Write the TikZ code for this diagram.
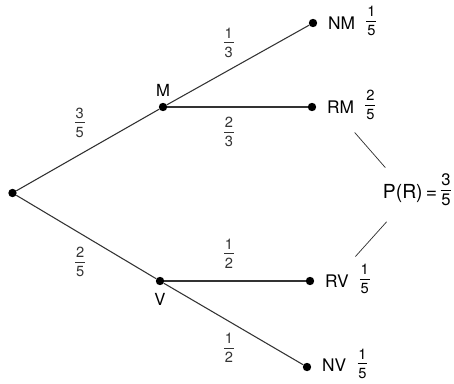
\documentclass[tikz,border=0pt]{standalone}
\usepackage{fontspec}
\setmainfont{TeX Gyre Heros}
\usetikzlibrary{positioning}
\newcommand{\pfrac}[3][11]{{\fontsize{#1}{#1}\selectfont\raisebox{2pt}{$\vcenter{\hbox{%
  \begin{tabular}{@{\kern0.6pt}c@{\kern0.6pt}}#2\\[-0.3pt]\hline\noalign{\vskip3pt}#3\end{tabular}}}$}}}

\begin{document}
\begin{tikzpicture}[
  x=0.75pt, y=-0.75pt,
  dot/.style={circle, fill=black, inner sep=0pt, minimum size=6.3pt},
  branch/.style={line width=0.8pt, black!80},
  tie/.style={line width=0.55pt, black!80},
  prob/.style={inner sep=1pt},
  outcome/.style={font=\fontsize{13}{15}\selectfont},
  vertexlabel/.style={font=\fontsize{12.5}{15}\selectfont}
]
\useasboundingbox (0,0) rectangle (454,383);

% Tree vertices.
\node[dot] (Start) at (12.5,193) {};
\node[dot] (M) at (163,107) {};
\node[dot] (V) at (160,281) {};
\node[dot] (NM) at (313,23) {};
\node[dot] (RM) at (312,107) {};
\node[dot] (RV) at (310,281) {};
\node[dot] (NV) at (307,367) {};

% Letters at the inner vertices.
\node[vertexlabel, above=1pt of M] (Mlab) {M};
\node[vertexlabel, below=2pt of V] (Vlab) {V};

% Outcomes with their probabilities.
\node[outcome, right=4.5pt of NM] (NMlab) {NM\hspace{8.5pt}\pfrac{1}{5}};
\node[outcome, right=4.5pt of RM] (RMlab) {RM\hspace{8.5pt}\pfrac{2}{5}};
\node[outcome, right=4.5pt of RV] (RVlab) {RV\hspace{8.5pt}\pfrac{1}{5}};
\node[outcome, right=4.5pt of NV, yshift=1pt] (NVlab) {NV\hspace{8.5pt}\pfrac{1}{5}};

% Branches with their probabilities.
\draw[branch] (Start) -- node[prob, above, xshift=-6pt, yshift=5pt] {\pfrac{3}{5}} (M);
\draw[branch] (Start) -- node[prob, below, xshift=-4.5pt, yshift=-6.4pt] {\pfrac{2}{5}} (V);
\draw[branch] (M) -- node[prob, above, xshift=-7pt, yshift=1pt] {\pfrac{1}{3}} (NM);
\draw[branch] (M) -- node[prob, below, xshift=-6.4pt, yshift=-6.4pt] {\pfrac{2}{3}} (RM);
\draw[branch] (V) -- node[prob, above, xshift=-4.5pt, yshift=5pt] {\pfrac{1}{2}} (RV);
\draw[branch] (V) -- node[prob, below, xshift=-3.4pt, yshift=-5.6pt] {\pfrac{1}{2}} (NV);

% Total probability of R.
\node[anchor=west, inner sep=2pt, font=\fontsize{14.5}{17}\selectfont] (PR) at (380,192)
  {P(R)\kern2.5pt=\kern2.5pt\pfrac[12.5]{3}{5}};
\draw[tie, shorten <=4pt] (RMlab.south) -- ([xshift=4pt, yshift=2pt]PR.north west);
\draw[tie, shorten >=3pt] ([xshift=5pt, yshift=-6pt]PR.south west) -- ([xshift=4pt]RVlab.north);

\end{tikzpicture}
\end{document}
